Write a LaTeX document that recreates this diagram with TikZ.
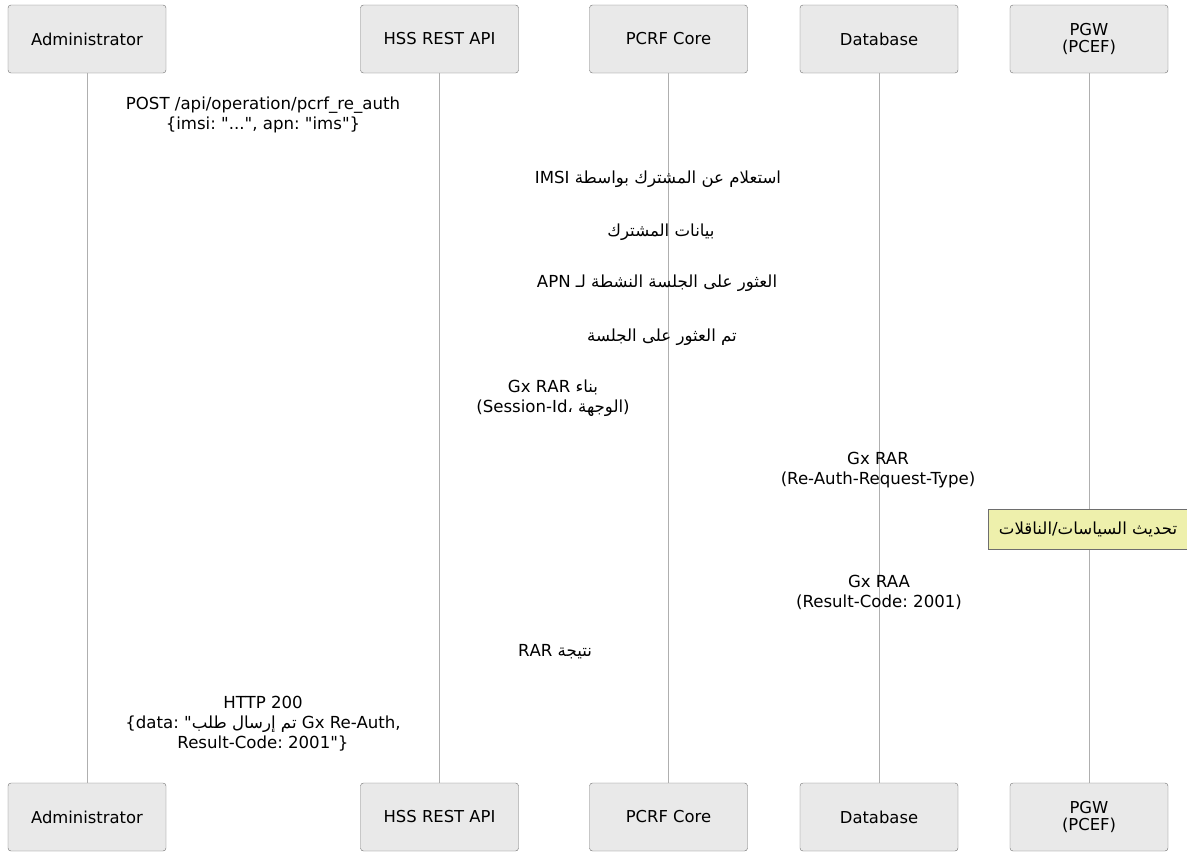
\documentclass[tikz,border=0pt]{standalone}
\usepackage{fontspec}
\setmainfont{DejaVu Sans}[Ligatures=TeXOff]
\newfontfamily\arabicfont[Script=Arabic]{DejaVu Sans}
\TeXXeTstate=1
\frenchspacing

\definecolor{boxgray}{RGB}{233,233,233}
\definecolor{linegray}{RGB}{110,110,110}
\definecolor{lifegray}{RGB}{175,175,175}
\definecolor{notey}{RGB}{238,240,172}

\newcommand\msgfont{\fontsize{16.6}{20}\selectfont}
\newcommand\actorfont{\fontsize{16.4}{17}\selectfont}
\newcommand\ar[1]{{\arabicfont\beginR #1\endR}}

\begin{document}
\begin{tikzpicture}[x=1pt,y=-1pt,
    actor/.style={draw=linegray, fill=boxgray, rounded corners=3pt,
      minimum width=158pt, minimum height=68pt, align=center, font=\actorfont},
    lifeline/.style={draw=lifegray, line width=1pt},
    msg/.style={align=center, font=\msgfont},
    notebox/.style={draw=linegray, fill=notey, minimum width=200pt,
      minimum height=40pt, font=\msgfont}]
  \useasboundingbox (0,0) rectangle (1187,852);

  % Participants, top and bottom
  \foreach \n/\x/\t in {admin/87/Administrator, hss/439.5/HSS REST API,
      pcrf/668.5/PCRF Core, db/879/Database, pgw/1089/{PGW\\(PCEF)}} {
    \node[actor] (\n-top) at (\x,39) {\t};
    \node[actor] (\n-bot) at (\x,817) {\t};
  }

  % Lifelines
  \foreach \n in {admin,hss,pcrf,db,pgw}
    \draw[lifeline] (\n-top) -- (\n-bot);

  % Messages (labels only)
  \node[msg] (m1) at (263,115)
    {POST /api/operation/pcrf\_re\_auth\\\{imsi: "...", apn: "ims"\}};
  \node[msg] (m2) at (658,179) {\ar{استعلام عن المشترك بواسطة \beginL IMSI\endL}};
  \node[msg] (m3) at (661,232) {\ar{بيانات المشترك}};
  \node[msg] (m4) at (657,283) {\ar{العثور على الجلسة النشطة لـ \beginL APN\endL}};
  \node[msg] (m5) at (662,337) {\ar{تم العثور على الجلسة}};
  \node[msg] (m6) at (553,398)
    {\ar{بناء \beginL Gx RAR\endL}\\(Session-Id، {\arabicfont الوجهة})};
  \node[msg] (m7) at (878,470) {Gx RAR\\(Re-Auth-Request-Type)};

  % Note on PGW
  \node[notebox] (upd) at (1088,529) {\ar{تحديث السياسات/الناقلات}};

  \node[msg] (m8) at (879,592) {Gx RAA\\(Result-Code: 2001)};
  \node[msg] (m9) at (555,652) {\ar{نتيجة \beginL RAR\endL}};
  \node[msg] (m10) at (263,724)
    {HTTP 200\\\{data: "\ar{تم إرسال طلب} Gx Re-Auth,\\Result-Code: 2001"\}};
\end{tikzpicture}
\end{document}
